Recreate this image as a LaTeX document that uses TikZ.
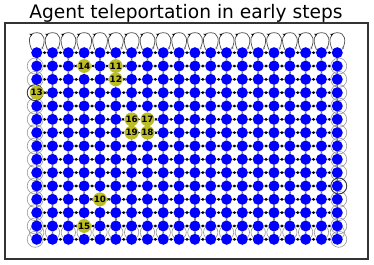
\documentclass[tikz,border=0pt]{standalone}
\usepackage{fontspec}
\setmainfont{DejaVu Sans}
\usetikzlibrary{arrows.meta,backgrounds,decorations.markings}
\definecolor{yolive}{HTML}{BCBD22}
\expandafter\def\csname lbl-4-2\endcsname{14}
\expandafter\def\csname lbl-6-2\endcsname{11}
\expandafter\def\csname lbl-6-3\endcsname{12}
\expandafter\def\csname lbl-1-4\endcsname{13}
\expandafter\def\csname lbl-7-6\endcsname{16}
\expandafter\def\csname lbl-8-6\endcsname{17}
\expandafter\def\csname lbl-7-7\endcsname{19}
\expandafter\def\csname lbl-8-7\endcsname{18}
\expandafter\def\csname lbl-5-12\endcsname{10}
\expandafter\def\csname lbl-4-14\endcsname{15}
\begin{document}
\begin{tikzpicture}[x=0.2mm,y=0.2mm,
  bnode/.style={circle,fill=blue,inner sep=0pt,minimum size=2.2mm},
  ynode/.style={circle,fill=yolive,inner sep=0pt,minimum size=2.7mm,font=\fontsize{5}{5}\selectfont\bfseries},
  hedge/.style={draw=black!60,line width=0.35pt,{Stealth[length=1.6pt,width=1.6pt,black]}-{Stealth[length=1.6pt,width=1.6pt,black]}},
  vedge/.style={draw=black!55,line width=0.3pt,{Stealth[length=1.2pt,width=1.2pt]}-{Stealth[length=1.2pt,width=1.2pt]}},
  loopg/.style={draw=black!40,line width=0.35pt},
  loopd/.style={draw=black!80,line width=0.45pt},
  looptop/.style={draw=black!70,line width=0.4pt,-{Stealth[length=1.5pt,width=1.5pt,black!45]},
    postaction={decorate},decoration={markings,mark=at position 0.4 with {\arrow{Stealth[length=1.7pt,width=1.7pt,black]}}}}]
\useasboundingbox (0,0) rectangle (374,-265);
\node[font=\fontsize{10.6}{12}\selectfont,anchor=base,inner sep=0pt] (title) at (186,-19) {Agent teleportation in early steps};
\draw[line width=0.6pt,draw=black!80] (5,-23) rectangle (368,-259);
\foreach \ci in {1,...,20}{\foreach \rj in {1,...,15}{
  \pgfmathsetmacro\px{36.7+(\ci-1)*15.82}
  \pgfmathsetmacro\py{-(52.7+(\rj-1)*13.33)}
  \ifcsname lbl-\ci-\rj\endcsname
    \node[ynode] (n-\ci-\rj) at (\px,\py) {\csname lbl-\ci-\rj\endcsname};
  \else
    \node[bnode] (n-\ci-\rj) at (\px,\py) {};
  \fi
}}
\begin{pgfonlayer}{background}
\foreach \ci [evaluate=\ci as \cn using int(\ci+1)] in {1,...,19}{\foreach \rj in {1,...,15}{
  \draw[hedge] (n-\ci-\rj) -- (n-\cn-\rj);}}
\foreach \ci in {1,...,20}{\foreach \rj [evaluate=\rj as \rn using int(\rj+1)] in {1,...,14}{
  \draw[vedge] (n-\ci-\rj) -- (n-\ci-\rn);}}
\foreach \ci in {1,...,20}{
  \draw[looptop] ([shift={(-5,3)}]n-\ci-1.center)
     .. controls ([shift={(-9,12)}]n-\ci-1.center) and ([shift={(-8,20)}]n-\ci-1.center) .. ([shift={(0,20)}]n-\ci-1.center)
     .. controls ([shift={(8,20)}]n-\ci-1.center) and ([shift={(9,12)}]n-\ci-1.center) .. ([shift={(5,3)}]n-\ci-1.center);
  \draw[loopg] ([shift={(0,7)}]n-\ci-15.center) circle (7.2);}
\foreach \rj in {2,...,15}{
  \draw[loopg] ([shift={(-1.5,0)}]n-1-\rj.center) circle (8);
  \draw[loopg] ([shift={(1.5,0)}]n-20-\rj.center) circle (8);}
\draw[loopd] ([shift={(1.5,0)}]n-20-11.center) circle (8);
\draw[loopd] ([shift={(-1.5,0)}]n-1-4.center) circle (8);
\end{pgfonlayer}
\end{tikzpicture}
\end{document}
